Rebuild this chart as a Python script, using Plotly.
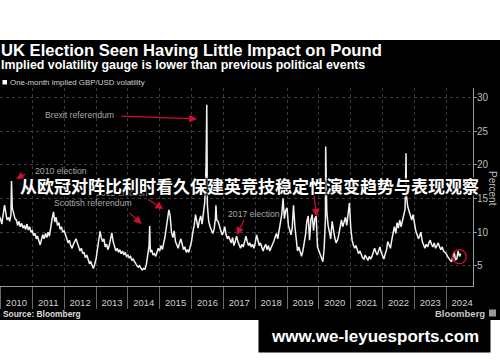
import plotly.graph_objects as go

# ---------------- data (semi-monthly readings: 1st and 16th of each month) ----------------
years = list(range(2010, 2025))
vol_2009_tail = [("2009-12-16", 12.4)]
vol_2010 = [12.0, 11.2, 12.5, 14.0, 13.0, 11.8, 12.2, 11.6, 12.6, 13.6, 12.8, 12.0,
            11.8, 11.0, 11.6, 10.8, 11.3, 10.6, 11.0, 10.4, 11.2, 10.3, 10.8, 10.0]
vol_2011 = [10.2, 9.5, 9.8, 9.0, 9.4, 8.7, 8.1, 8.9, 9.6, 9.0, 9.8, 9.2,
            10.0, 9.4, 11.0, 12.0, 13.0, 11.5, 12.2, 11.0, 11.4, 10.4, 10.8, 10.0]
vol_2012 = [10.2, 9.4, 9.0, 8.4, 8.8, 8.0, 7.6, 8.2, 8.6, 9.0, 8.4, 7.8,
            7.2, 7.6, 6.8, 7.0, 6.2, 6.6, 5.8, 5.4, 5.6, 5.0, 4.6, 5.2]
vol_2013 = [6.0, 7.4, 8.8, 10.1, 9.2, 8.6, 9.0, 7.8, 8.2, 7.4, 8.0, 8.8,
            9.9, 8.6, 8.0, 7.2, 7.6, 7.0, 7.4, 6.8, 7.2, 6.6, 7.0, 6.4]
vol_2014 = [6.6, 6.2, 6.4, 5.8, 6.0, 5.6, 5.4, 5.0, 4.8, 5.0, 4.6, 4.4,
            4.6, 4.5, 5.2, 6.8, 8.0, 7.0, 7.4, 6.6, 6.8, 6.4, 7.0, 7.6]
vol_2015 = [7.2, 8.0, 7.4, 8.8, 9.2, 10.5, 12.0, 13.3, 12.4, 10.0, 9.2, 10.2,
            8.6, 8.0, 7.6, 8.4, 9.0, 8.2, 7.4, 7.8, 7.0, 7.4, 7.0, 7.8]
vol_2016 = [8.6, 10.0, 11.0, 12.6, 11.4, 10.6, 11.8, 12.4, 11.2, 12.8, 14.5, 20.0,
            14.0, 11.6, 10.8, 10.2, 9.8, 10.4, 12.0, 11.8, 11.6, 10.8, 10.2, 9.6]
vol_2017 = [10.0, 10.8, 9.6, 9.0, 9.4, 8.8, 8.4, 9.2, 8.0, 8.6, 9.4, 8.6,
            8.0, 7.6, 8.2, 7.8, 8.6, 9.4, 8.6, 8.0, 8.4, 7.8, 8.2, 7.6]
vol_2018 = [8.4, 9.6, 8.8, 8.0, 8.4, 7.6, 7.2, 7.8, 8.2, 7.4, 8.0, 7.2,
            7.6, 8.2, 8.6, 9.2, 9.8, 9.0, 10.0, 11.4, 12.6, 15.0, 12.0, 13.2]
vol_2019 = [13.6, 11.0, 10.4, 9.6, 10.6, 14.0, 10.8, 8.4, 7.2, 7.8, 6.8, 6.4,
            7.2, 8.4, 9.6, 11.6, 12.4, 8.8, 11.8, 12.6, 10.2, 12.0, 12.4, 7.8]
vol_2020 = [7.2, 6.6, 6.2, 5.6, 7.5, 12.0, 13.0, 11.0, 10.2, 9.0, 11.6, 10.0,
            9.2, 8.4, 8.8, 9.6, 10.6, 11.8, 10.8, 11.4, 12.2, 11.0, 12.6, 14.3]
vol_2021 = [10.6, 8.8, 8.0, 7.6, 8.0, 7.2, 6.8, 7.2, 6.6, 6.2, 6.0, 6.6,
            6.2, 5.8, 6.4, 6.0, 6.4, 7.0, 7.6, 7.0, 6.6, 7.2, 7.8, 7.0]
vol_2022 = [6.6, 6.0, 6.8, 7.4, 8.6, 8.0, 7.6, 8.8, 10.2, 10.8, 9.8, 11.4,
            10.6, 11.8, 10.8, 11.6, 12.6, 13.4, 15.6, 13.8, 13.2, 12.4, 11.8, 12.6]
vol_2023 = [11.0, 10.2, 9.6, 9.0, 9.4, 10.0, 8.6, 8.0, 7.6, 8.2, 7.8, 8.4,
            8.8, 8.2, 7.8, 8.4, 7.6, 8.0, 8.4, 7.8, 7.4, 7.8, 7.2, 7.0]
vol_2024 = [6.8, 6.4, 6.0, 5.8, 5.6, 6.2, 7.0, 5.9, 6.0, 7.2, 6.4, 6.8]
yearly_values = [vol_2010, vol_2011, vol_2012, vol_2013, vol_2014, vol_2015, vol_2016,
                 vol_2017, vol_2018, vol_2019, vol_2020, vol_2021, vol_2022, vol_2023, vol_2024]

# short-lived spikes between the semi-monthly readings
spike_dates = ["2010-05-07", "2014-09-08", "2016-06-24", "2016-10-07", "2020-03-19", "2022-09-27"]
spike_values = [17.6, 10.9, 28.9, 14.0, 22.7, 21.7]

y_ticks = [5, 10, 15, 20, 25, 30]

# ---------------- assemble series ----------------
points = list(vol_2009_tail)
for yr, vals in zip(years, yearly_values):
    for i, v in enumerate(vals):
        m = i // 2 + 1
        d = 1 if i % 2 == 0 else 16
        points.append((f"{yr}-{m:02d}-{d:02d}", v))
points += list(zip(spike_dates, spike_values))
points.sort(key=lambda p: p[0])
xs = [p[0] for p in points]
ys = [p[1] for p in points]

# ---------------- geometry helpers (pixel -> paper) ----------------
W, H = 500, 362
ML, MR, MT, MB = 0, 27, 88, 76
PW = W - ML - MR
PH = H - MT - MB
def px(x):
    return (x - ML) / PW
def py(y):
    return (H - MB - y) / PH

fig = go.Figure()
fig.add_trace(go.Scatter(x=xs, y=ys, mode="lines",
                         line=dict(color="#f2f2f2", width=1.5),
                         showlegend=False, hoverinfo="skip"))

GRID = "#3c3c3c"
fig.update_layout(
    width=W, height=H, autosize=False,
    margin=dict(l=ML, r=MR, t=MT, b=MB, autoexpand=False),
    paper_bgcolor="black", plot_bgcolor="black",
    showlegend=False,
    xaxis=dict(type="date", range=["2009-12-26", "2024-11-03"],
               tick0="2010-01-01", dtick="M12", tickformat="%Y",
               ticklabelmode="period", ticks="outside", ticklen=22,
               tickcolor="#6a6a6a", tickwidth=1,
               ticklabelstandoff=-14,
               showgrid=True, gridcolor=GRID, griddash="dot", gridwidth=1,
               showline=True, linecolor="#9a9a9a", linewidth=1,
               zeroline=False,
               tickfont=dict(family="Liberation Sans, Arial", size=9.5, color="#cfcfcf")),
    yaxis=dict(side="right", range=[2, 31.4], tickvals=y_ticks,
               ticks="outside", ticklen=3, tickcolor="#9a9a9a",
               ticklabelstandoff=-2,
               showgrid=True, gridcolor=GRID, griddash="dot", gridwidth=1,
               showline=True, linecolor="#9a9a9a", linewidth=1,
               zeroline=False,
               tickfont=dict(family="Liberation Sans, Arial", size=10, color="#bdbdbd")),
)

shapes = []
# white strips above and below the chart image
shapes.append(dict(type="rect", xref="paper", yref="paper", x0=px(-5), x1=px(505), y0=py(-5), y1=py(40),
                   fillcolor="white", line=dict(width=0), layer="below"))
shapes.append(dict(type="rect", xref="paper", yref="paper", x0=px(-5), x1=px(505), y0=py(320), y1=py(367),
                   fillcolor="white", line=dict(width=0), layer="below"))
# watermark box
shapes.append(dict(type="rect", xref="paper", yref="paper", x0=px(258.5), x1=px(490.5), y0=py(319.5), y1=py(352.5),
                   fillcolor="black", line=dict(width=0), layer="above"))
# legend swatch
shapes.append(dict(type="rect", xref="paper", yref="paper", x0=px(2.5), x1=px(7), y0=py(80), y1=py(84.5),
                   fillcolor="white", line=dict(width=0)))
# red circle around latest reading
shapes.append(dict(type="circle", xref="paper", yref="paper", x0=px(452.3), x1=px(466.3), y0=py(249.7), y1=py(263.7),
                   line=dict(color="#d0102a", width=1.2)))
# Bloomberg logo square
shapes.append(dict(type="rect", xref="paper", yref="paper", x0=px(489), x1=px(496), y0=py(309.5), y1=py(316.5),
                   fillcolor="#9a9a9a", line=dict(width=0)))
fig.update_layout(shapes=shapes)

ann = []
def text(x, y, s, size, color="#ffffff", bold=False, xanchor="left", family="Liberation Sans, Arial", angle=0, shadow=None):
    f = dict(family=family, size=size, color=color)
    if bold:
        f["weight"] = "bold"
    if shadow:
        f["shadow"] = shadow
    ann.append(dict(x=px(x), y=py(y), xref="paper", yref="paper", text=s, showarrow=False,
                    xanchor=xanchor, yanchor="middle", font=f, textangle=angle, borderpad=0))

def arrow(x0, y0, x1, y1):
    ann.append(dict(x=px(x1), y=py(y1), xref="paper", yref="paper", text="", showarrow=True,
                    ax=x0 - x1, ay=y0 - y1, axref="pixel", ayref="pixel",
                    arrowhead=2, arrowsize=1.3, arrowwidth=1.2, arrowcolor="#cc1030"))

text(0, 50.5, "UK Election Seen Having Little Impact on Pound", 16.6, bold=True)
text(0, 64.5, "Implied volatility gauge is lower than previous political events", 12.4, bold=True)
text(9, 82.3, "One-month implied GBP/USD volatility", 7.9, color="#cfcfcf")

ANN_C = "#a8a8a8"
text(44, 115, "Brexit referendum", 8.7, color=ANN_C)
text(34, 170.7, "2010 election", 8.7, color=ANN_C)
text(95, 192.7, "2015 election", 8.7, color=ANN_C)
text(53, 203.3, "Scottish referendum", 8.7, color=ANN_C)
text(227, 214, "2017 election", 8.7, color=ANN_C)

arrow(120, 116, 197, 119)
arrow(26.7, 173.3, 16, 179)
arrow(146.7, 198.5, 163.3, 209)
arrow(128.3, 211.7, 141.7, 224)
arrow(245, 218.3, 236.7, 235)
arrow(313.3, 190, 316.7, 216.7)

text(493, 188, "Percent", 10, color="#bdbdbd", xanchor="center", angle=90)
text(2, 314, "Source: Bloomberg", 8.4, color="#dedede", bold=True)
text(486, 313, "Bloomberg", 9.5, color="#c8c8c8", bold=True, xanchor="right")

text(249.5, 185, "从欧冠对阵比利时看久保建英竞技稳定性演变趋势与表现观察", 17, bold=True,
     xanchor="center", family="Noto Sans CJK SC",
     shadow="1px 1px 2px #000, -1px -1px 2px #000, 1px -1px 2px #000, -1px 1px 2px #000")
text(374.5, 336, "www.we-leyuesports.com", 17, bold=True, xanchor="center")

fig.update_layout(annotations=ann)
fig.write_html("out.html", config={"displayModeBar": False},
               post_script="document.body.style.margin='0';document.body.style.overflow='hidden';")
